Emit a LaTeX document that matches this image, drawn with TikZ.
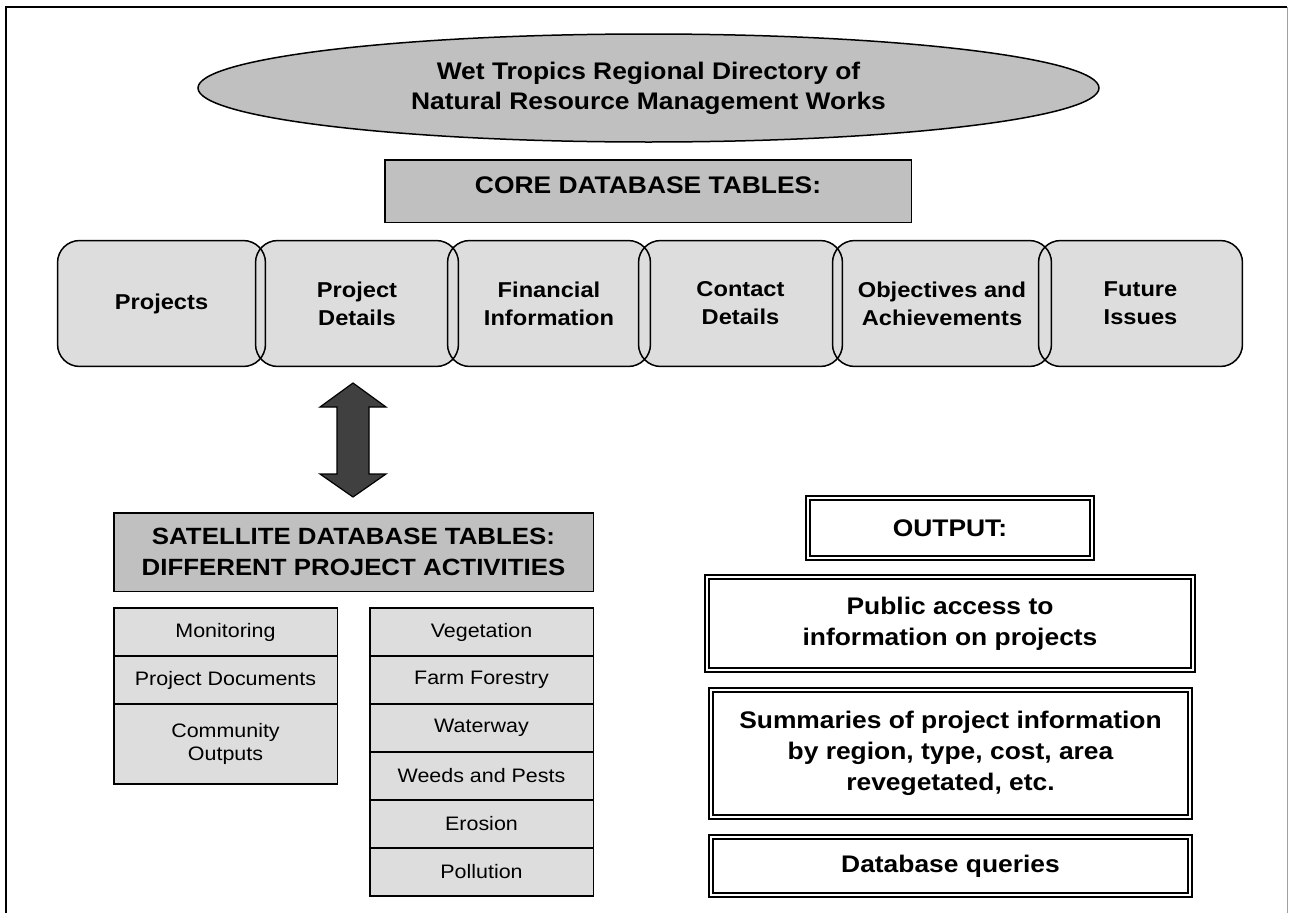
\documentclass[tikz,border=0pt]{standalone}
\usepackage{fontspec}
\setmainfont{Liberation Sans}[FakeStretch=1.1]
\usetikzlibrary{shapes.geometric}
\definecolor{silverfill}{HTML}{C0C0C0}
\definecolor{lightfill}{HTML}{DDDDDD}
\definecolor{arrowgray}{HTML}{404040}
\definecolor{framegray}{HTML}{A0A0A0}
\tikzset{
  boxline/.style={draw=black, line width=1.5pt},
  titleshape/.style={ellipse, boxline, fill=silverfill, inner sep=0pt,
    minimum width=901pt, minimum height=108pt, align=center,
    font=\bfseries\fontsize{24}{30}\selectfont},
  hdrbox/.style={rectangle, boxline, fill=silverfill, inner sep=0pt, align=center,
    font=\bfseries\fontsize{23.5}{30.5}\selectfont},
  corefill/.style={rectangle, rounded corners=22pt, fill=lightfill, inner sep=0pt,
    minimum height=125.5pt, align=center, font=\bfseries\fontsize{21.5}{28}\selectfont},
  coreline/.style={boxline, rounded corners=22pt},
  cellbox/.style={rectangle, boxline, fill=lightfill, inner sep=0pt,
    minimum width=223.5pt, align=center, font=\fontsize{19.5}{23}\selectfont},
  outbox/.style={rectangle, draw=black, line width=1.6pt, double=white,
    double distance=2.6pt, inner sep=0pt, align=center,
    font=\bfseries\fontsize{24}{31}\selectfont},
  blockarrow/.style={draw=black, line width=1.2pt, fill=arrowgray, line join=miter},
}
\begin{document}
\begin{tikzpicture}[x=1pt, y=-1pt]
\useasboundingbox (0,0) rectangle (1291,913);
% outer frame
\draw[black, line width=1.6pt] (6,913) -- (6,7) -- (1287,7);
\draw[framegray, line width=0.8pt] (1287,7) -- (1287,913);

% title
\node[titleshape] (title) at (648.5,88) {Wet Tropics Regional Directory of\\Natural Resource Management Works};

% core header
\node[hdrbox, minimum width=526.5pt, minimum height=62.5pt, text height=17pt, text depth=12.5pt,
      font=\bfseries\fontsize{24}{30}\selectfont] (core) at (648,191) {CORE DATABASE TABLES:};

% core tables (fill pass)
\node[corefill, minimum width=207.5pt] (projects) at (161.5,303.5) {Projects};
\node[corefill, minimum width=202.5pt] (pdetails) at (357,303.5) {Project\\Details};
\node[corefill, minimum width=202.5pt] (financial) at (549,303.5) {Financial\\Information};
\node[corefill, minimum width=203.5pt] (contact) at (740.5,303.5) {Contact\\Details};
\node[corefill, minimum width=218.5pt] (objectives) at (942,303.5) {Objectives and\\Achievements};
\node[corefill, minimum width=203.5pt] (future) at (1140.5,303.5) {Future\\Issues};
% outline pass
\foreach \n in {projects,pdetails,financial,contact,objectives,future}
  \draw[coreline] (\n.south west) rectangle (\n.north east);

% satellite header
\node[hdrbox, minimum width=479.5pt, minimum height=78.5pt] (sat) at (353.5,552) {SATELLITE DATABASE TABLES:\\DIFFERENT PROJECT ACTIVITIES};

% double block arrow between project details and satellite tables
\draw[blockarrow, shift={(353,440)}]
  (0,-57) -- (33,-33) -- (16,-33) -- (16,34) -- (33,34) -- (0,57)
  -- (-33,34) -- (-16,34) -- (-16,-33) -- (-33,-33) -- cycle;

% left list
\node[cellbox, minimum height=48pt] (monitoring) at (225.5,632) {Monitoring};
\node[cellbox, minimum height=48pt] (documents) at (225.5,680) {Project Documents};
\node[cellbox, minimum height=80pt] (community) at (225.5,744) {Community\\Outputs};

% right list
\node[cellbox, minimum height=48pt] (vegetation) at (481.5,632) {Vegetation};
\node[cellbox, minimum height=48pt] (farm) at (481.5,680) {Farm Forestry};
\node[cellbox, minimum height=48pt] (waterway) at (481.5,728) {Waterway};
\node[cellbox, minimum height=48pt] (weeds) at (481.5,776) {Weeds and Pests};
\node[cellbox, minimum height=48pt] (erosion) at (481.5,824) {Erosion};
\node[cellbox, minimum height=48pt] (pollution) at (481.5,872) {Pollution};

% output column
\node[outbox, minimum width=284pt, minimum height=60pt] (output) at (950,528) {OUTPUT:};
\node[outbox, minimum width=486pt, minimum height=93pt] (public) at (950,623.5) {Public access to\\information on projects};
\node[outbox, minimum width=479pt, minimum height=127pt] (summaries) at (950.5,753.5) {Summaries of project information\\by region, type, cost, area\\revegetated, etc.};
\node[outbox, minimum width=479pt, minimum height=58pt] (queries) at (950.5,866) {Database queries};
\end{tikzpicture}
\end{document}
